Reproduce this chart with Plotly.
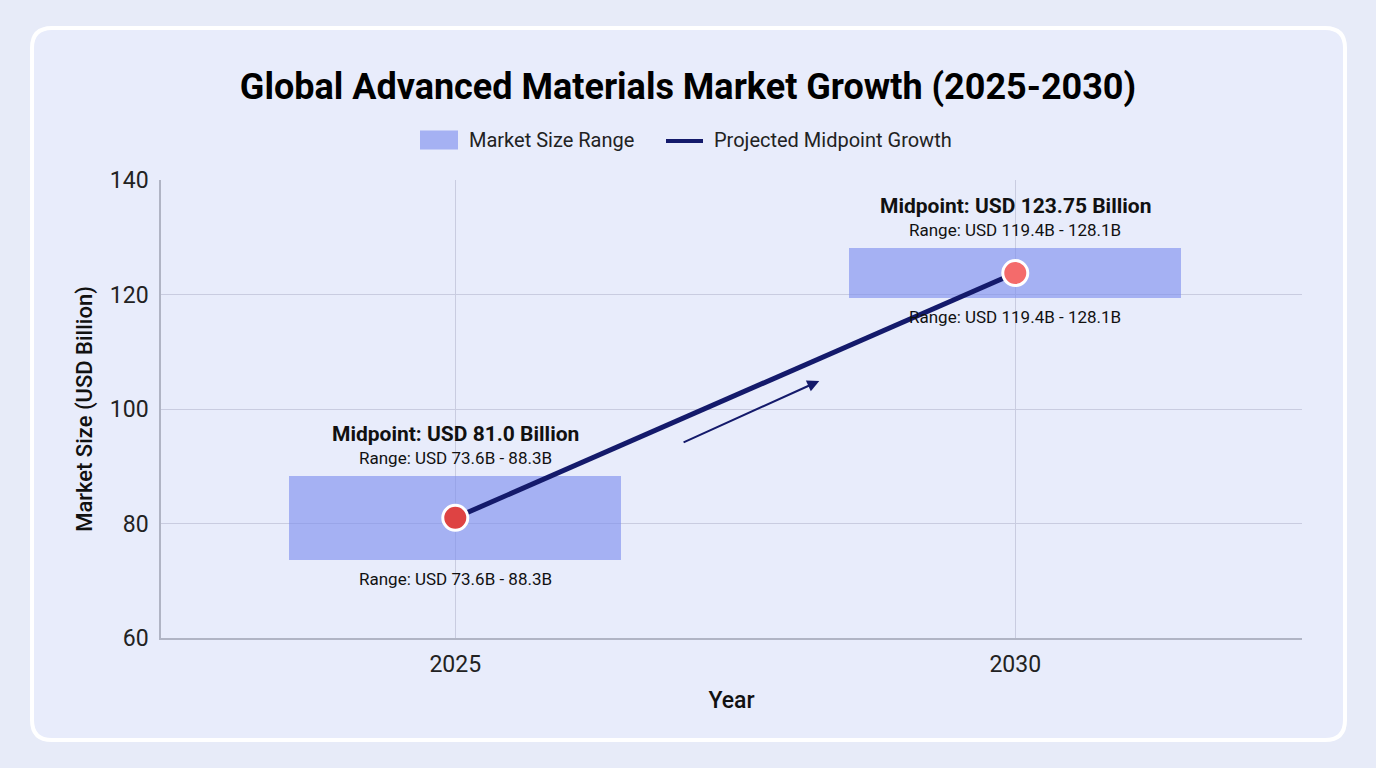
import plotly.graph_objects as go

years = ["2025", "2030"]
range_low = [73.6, 119.4]
range_high = [88.3, 128.1]
midpoints = [81.0, 123.75]
marker_colors = ["#de4343", "#f46b6b"]
y_ticks = [60, 80, 100, 120, 140]
legend_names = ["Market Size Range", "Projected Midpoint Growth"]

BAR_COLOR = "rgba(125,140,238,0.62)"
LINE_COLOR = "#141a6b"

W, H = 1376, 768
L, R, T, B = 161, 1302, 180, 638

def px(x):
    return (x - L) / (R - L)

def py(y):
    return (B - y) / (B - T)

fig = go.Figure()

fig.add_trace(go.Bar(
    x=years, base=range_low,
    y=[h - l for h, l in zip(range_high, range_low)],
    width=0.593, name=legend_names[0], showlegend=False,
    marker=dict(color=BAR_COLOR, line=dict(width=0)),
    hoverinfo="skip",
))

fig.add_trace(go.Scatter(
    x=years, y=midpoints, mode="lines", name=legend_names[1], showlegend=False,
    line=dict(color=LINE_COLOR, width=5),
))

fig.add_trace(go.Scatter(
    x=years, y=midpoints, mode="markers", showlegend=False,
    marker=dict(color=marker_colors, size=25, line=dict(color="white", width=3)),
))

# Card background
x0, x1, y0, y1, r = px(32), px(1345), py(28), py(740), 20
rx, ry = r / (R - L), r / (B - T)
path = (f"M {x0+rx},{y0} L {x1-rx},{y0} Q {x1},{y0} {x1},{y0-ry} "
        f"L {x1},{y1+ry} Q {x1},{y1} {x1-rx},{y1} "
        f"L {x0+rx},{y1} Q {x0},{y1} {x0},{y1+ry} "
        f"L {x0},{y0-ry} Q {x0},{y0} {x0+rx},{y0} Z")
fig.add_shape(type="path", path=path, xref="paper", yref="paper",
              fillcolor="#e8ecfb", line=dict(color="white", width=4), layer="below")

# Manual legend
fig.add_shape(type="rect", xref="paper", yref="paper",
              x0=px(420), x1=px(458), y0=py(149.5), y1=py(130.5),
              fillcolor=BAR_COLOR, line=dict(width=0))
fig.add_shape(type="line", xref="paper", yref="paper",
              x0=px(666), x1=px(703), y0=py(141), y1=py(141),
              line=dict(color=LINE_COLOR, width=4))

annotations = [
    dict(x=px(467), y=py(140), xref="paper", yref="paper", xanchor="left", yanchor="middle",
         showarrow=False, text=legend_names[0], font=dict(size=20, color="#222222")),
    dict(x=px(712), y=py(140), xref="paper", yref="paper", xanchor="left", yanchor="middle",
         showarrow=False, text=legend_names[1], font=dict(size=20, color="#222222")),
]
for i, (yr, lo, hi, mid) in enumerate(zip(years, range_low, range_high, midpoints)):
    annotations.append(dict(x=i, y=hi, xref="x", yref="y", yshift=42, showarrow=False,
                            text=f"<b>Midpoint: USD {mid} Billion</b>",
                            font=dict(size=21, color="#111111")))
    annotations.append(dict(x=i, y=hi, xref="x", yref="y", yshift=18, showarrow=False,
                            text=f"Range: USD {lo}B - {hi}B",
                            font=dict(size=17, color="#111111")))
    annotations.append(dict(x=i, y=lo, xref="x", yref="y", yshift=-19, showarrow=False,
                            text=f"Range: USD {lo}B - {hi}B",
                            font=dict(size=17, color="#111111")))

annotations.append(dict(x=0.65, y=104.9, ax=0.405, ay=94.06, xref="x", yref="y",
                        axref="x", ayref="y", showarrow=True, text="",
                        arrowhead=2, arrowsize=1.2, arrowwidth=2, arrowcolor=LINE_COLOR))

fig.update_layout(
    width=W, height=H,
    margin=dict(l=L, r=W - R, t=T, b=H - B),
    paper_bgcolor="#e7ebf8", plot_bgcolor="rgba(0,0,0,0)",
    font=dict(family="Roboto", color="#111111"),
    title=dict(text="<b>Global Advanced Materials Market Growth (2025-2030)</b>",
               x=px(688), xref="paper", xanchor="center", y=1 - 86 / H, yanchor="middle",
               font=dict(size=36, color="#000000")),
    showlegend=False,
    xaxis=dict(type="category", range=[-0.5255, 1.512], showgrid=True,
               gridcolor="#c9cce0", gridwidth=1, showline=True, linecolor="#b0b4c4",
               linewidth=1.5, tickfont=dict(size=23, color="#222222"), ticks="",
               ticklabelstandoff=5,
               title=dict(text="Year", font=dict(size=23, weight=500, color="#111111"),
                          standoff=15)),
    yaxis=dict(range=[60, 140], tickvals=y_ticks, showgrid=True, gridcolor="#c9cce0",
               gridwidth=1, showline=True, linecolor="#b0b4c4", linewidth=1.5,
               zeroline=False, tickfont=dict(size=23, color="#222222"), ticks="",
               ticklabelstandoff=6,
               title=dict(text="Market Size (USD Billion)",
                          font=dict(size=22, weight=500, color="#111111"),
                          standoff=11)),
    annotations=annotations,
    bargap=0,
)

fig.write_html("out.html")
